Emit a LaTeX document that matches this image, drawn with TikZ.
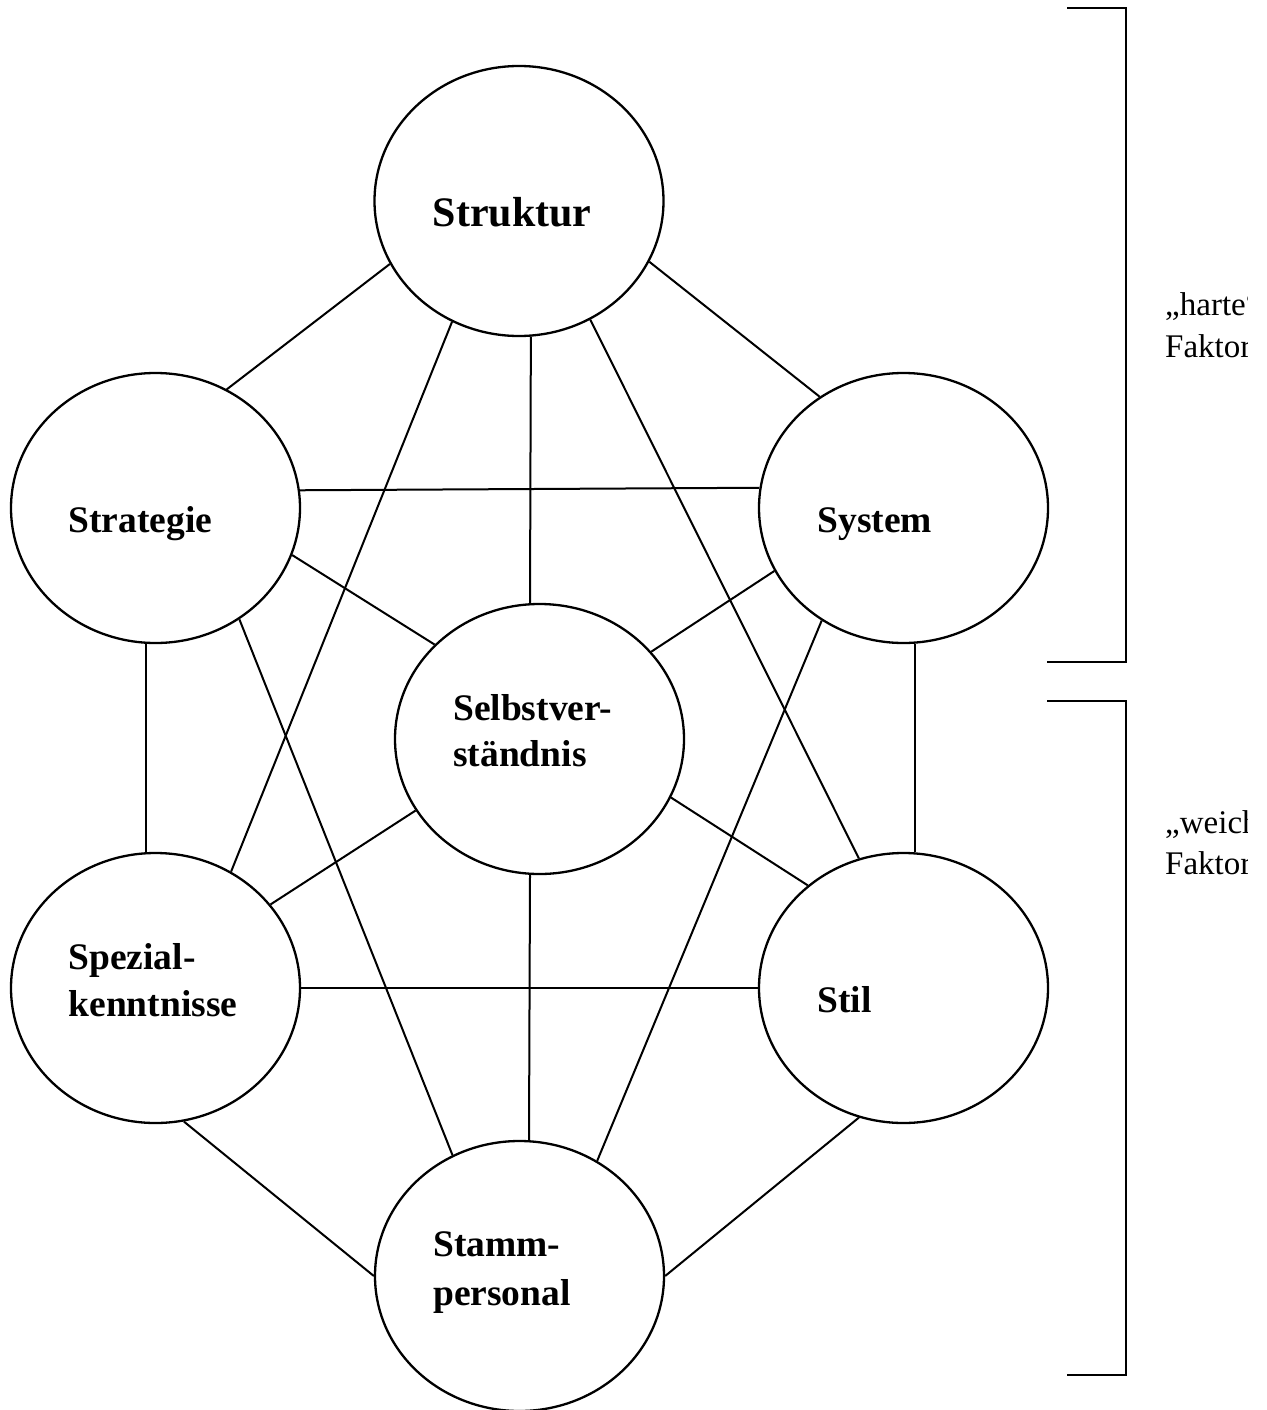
\documentclass[tikz,border=0pt]{standalone}
\usepackage{fontspec}
\setmainfont{Liberation Serif}
\usetikzlibrary{shapes.geometric}

\tikzset{
  factor/.style={draw, ellipse, line width=2.3pt, minimum width=289pt, minimum height=270pt, inner sep=0pt},
  link/.style={line width=2pt},
  caption/.style={anchor=base west, inner sep=0pt, font=\fontsize{37.5}{47}\selectfont\bfseries, align=left},
  bracketline/.style={line width=2.6pt},
  side/.style={anchor=base west, inner sep=0pt, font=\fontsize{33}{42}\selectfont, align=left}
}

\begin{document}
\begin{tikzpicture}[x=1pt, y=-1pt]
\useasboundingbox (0,0) rectangle (1266,1410);

% the seven factors
\node[factor] (struktur) at (519,201) {};
\node[factor] (strategie) at (155.5,508) {};
\node[factor] (system) at (903.5,508) {};
\node[factor] (selbst) at (539.5,739) {};
\node[factor] (spezial) at (155.5,988) {};
\node[factor] (stil) at (903.5,988) {};
\node[factor] (stamm) at (519.5,1276) {};

% labels inside the ellipses
\node[caption, font=\fontsize{42}{50}\selectfont\bfseries] (tstruktur) at (432.5,226.7) {Struktur};
\node[caption] (tstrategie) at (68.3,532.3) {Strategie};
\node[caption] (tsystem) at (817.3,532.3) {System};
\node[caption] (tselbst1) at (453,720.7) {Selbstver-};
\node[caption] (tselbst2) at (453,766.7) {ständnis};
\node[caption] (tspezial1) at (68.3,969.3) {Spezial-};
\node[caption] (tspezial2) at (68.3,1016.7) {kenntnisse};
\node[caption] (tstil) at (817.3,1012.3) {Stil};
\node[caption] (tstamm1) at (433,1256.7) {Stamm-};
\node[caption] (tstamm2) at (433,1305) {personal};

% every factor is linked with every other one
\draw[link] (struktur.-154.2) -- (strategie.59.2);
\draw[link] (struktur.-25.3) -- (system.127.3);
\draw[link] (struktur.-119) -- (spezial.57.3);
\draw[link] (struktur.-85.5) -- (selbst.94.3);
\draw[link] (struktur.-59.7) -- (stil.109.3);
\draw[link] (strategie.7.97) -- (system.172.03);
\draw[link] (strategie.-19.4) -- (selbst.138.8);
\draw[link] (strategie.-53.2) -- (stamm.119.5);
\draw[link] (strategie.-94.4) -- (spezial.94.4);
\draw[link] (system.-154.8) -- (selbst.38.3);
\draw[link] (system.-126.7) -- (stamm.56.4);
\draw[link] (system.-85.8) -- (stil.85.8);
\draw[link] (selbst.-150.5) -- (spezial.36.2);
\draw[link] (selbst.-24.7) -- (stil.133);
\draw[link] (selbst.-94.2) -- (stamm.86);
\draw[link] (spezial.0) -- (stil.180);
\draw[link] (spezial.-78.6) -- (stamm.180);
\draw[link] (stil.-109.7) -- (stamm.0);

% brackets for hard and soft factors
\coordinate (h1) at (1067,8);
\coordinate (h2) at (1126,8);
\coordinate (h3) at (1126,662);
\coordinate (h4) at (1047,662);
\draw[bracketline] (h1) -- (h2) -- (h3) -- (h4);
\coordinate (w1) at (1047,701);
\coordinate (w2) at (1126,701);
\coordinate (w3) at (1126,1375);
\coordinate (w4) at (1067,1375);
\draw[bracketline] (w1) -- (w2) -- (w3) -- (w4);

% bracket captions, cut off by their frame on the right
\begin{scope}
  \clip (1140,270) rectangle (1247,900);
  \node[side] (hart1) at (1165,315) {„harte“};
  \node[side] (hart2) at (1165,357) {Faktoren};
  \node[side] (weich1) at (1165,833) {„weiche“};
  \node[side] (weich2) at (1165,874) {Faktoren};
\end{scope}
\end{tikzpicture}
\end{document}
